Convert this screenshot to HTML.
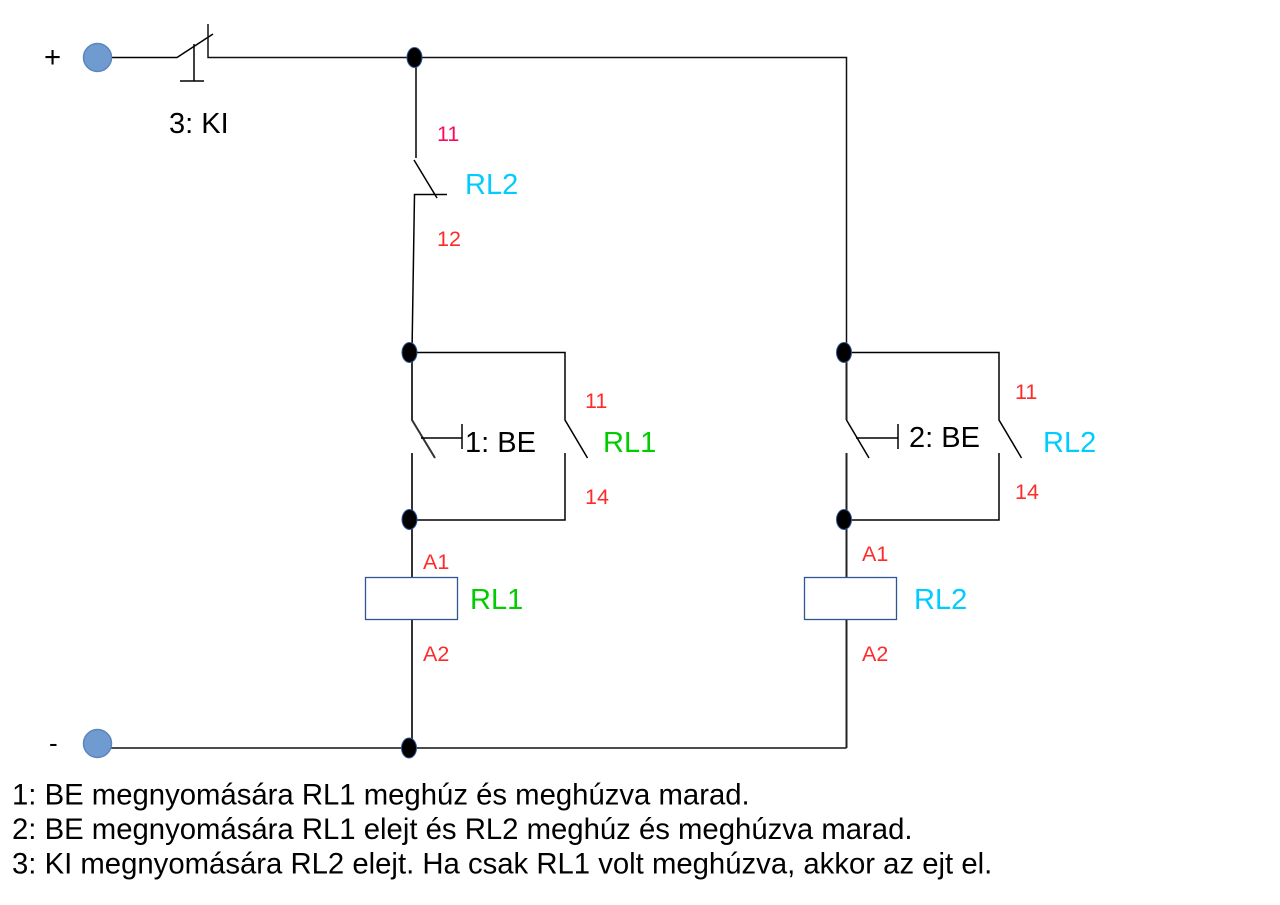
<!DOCTYPE html>
<html>
<head>
<meta charset="utf-8">
<style>
html,body{margin:0;padding:0;background:#fff;width:1280px;height:905px;overflow:hidden}
svg{display:block}
text{font-family:"Liberation Sans",sans-serif}
.k{fill:#000;font-size:29.3px}
.b{fill:#00ccff;font-size:29px}
.g{fill:#00cc00;font-size:29px}
.r{fill:#ff2a2a;font-size:21.5px}
</style>
</head>
<body>
<svg width="1280" height="905" viewBox="0 0 1280 905" xmlns="http://www.w3.org/2000/svg">
<g fill="none" stroke="#000" stroke-width="1.5">
<path d="M111 57.5H177L213 34"/>
<path d="M194 44V81M180 81H204"/>
<path d="M208 24V57.5H846.5V352" stroke="#111"/>
<path d="M846.5 748H111" stroke="#111"/>
<path d="M416 57V158M414 160L437 198M447 194.5H414.5L412 352"/>
<path d="M411 352.5H565V420L587.5 458M565 453V520H411"/>
<path d="M412 352V420L435 458M412 453V748" stroke="#333" stroke-width="2"/>
<path d="M421 438H462M462 424V449"/>
<path d="M845 352.5H999V420L1021.5 458M999 453V520H845"/>
<path d="M856 438H898M898 424V449"/>
<path d="M846.5 352V420M846.5 453V748" stroke="#222" stroke-width="2"/>
<path d="M846.5 420L869 458"/>
</g>
<rect x="365.5" y="577.5" width="92" height="42" fill="#fff" stroke="#2f5597" stroke-width="1.3"/>
<rect x="804.5" y="577.5" width="92" height="42" fill="#fff" stroke="#2f5597" stroke-width="1.3"/>
<g fill="#6f9bd1" stroke="#5b86bd" stroke-width="1.5">
<circle cx="97.5" cy="57.5" r="14"/>
<circle cx="97.5" cy="743.5" r="14"/>
</g>
<g fill="#000" stroke="#2f5597" stroke-width="1">
<ellipse cx="414.5" cy="57.5" rx="7.5" ry="10"/>
<ellipse cx="409.5" cy="352.5" rx="7.5" ry="10"/>
<ellipse cx="409.5" cy="519.5" rx="7.5" ry="10"/>
<ellipse cx="844" cy="352.5" rx="7.5" ry="10"/>
<ellipse cx="844" cy="519.5" rx="7.5" ry="10"/>
<ellipse cx="409" cy="748" rx="7.5" ry="10"/>
</g>
<text x="44" y="67" class="k">+</text>
<text x="49" y="752" class="k" style="font-size:26px">-</text>
<text x="169" y="133" class="k" style="font-size:29px">3: KI</text>
<text x="437" y="141" class="r" style="fill:#ff0a5a">11</text>
<text x="437" y="246" class="r">12</text>
<text x="465" y="194" class="b">RL2</text>
<text x="465" y="452" class="k" style="font-size:29px">1: BE</text>
<text x="909" y="447" class="k" style="font-size:29px">2: BE</text>
<text x="585" y="408" class="r">11</text>
<text x="585" y="504" class="r">14</text>
<text x="1015" y="399" class="r">11</text>
<text x="1015" y="499" class="r">14</text>
<text x="603" y="452" class="g">RL1</text>
<text x="1043" y="452" class="b">RL2</text>
<text x="423" y="569" class="r">A1</text>
<text x="423" y="661" class="r">A2</text>
<text x="862" y="561" class="r">A1</text>
<text x="862" y="661" class="r">A2</text>
<text x="470" y="609" class="g">RL1</text>
<text x="914" y="609" class="b">RL2</text>
<text x="12" y="804.5" class="k">1: BE megnyomására RL1 meghúz és meghúzva marad.</text>
<text x="12" y="839" class="k">2: BE megnyomására RL1 elejt és RL2 meghúz és meghúzva marad.</text>
<text x="12" y="873.5" class="k">3: KI megnyomására RL2 elejt. Ha csak RL1 volt meghúzva, akkor az ejt el.</text>
</svg>
</body>
</html>
